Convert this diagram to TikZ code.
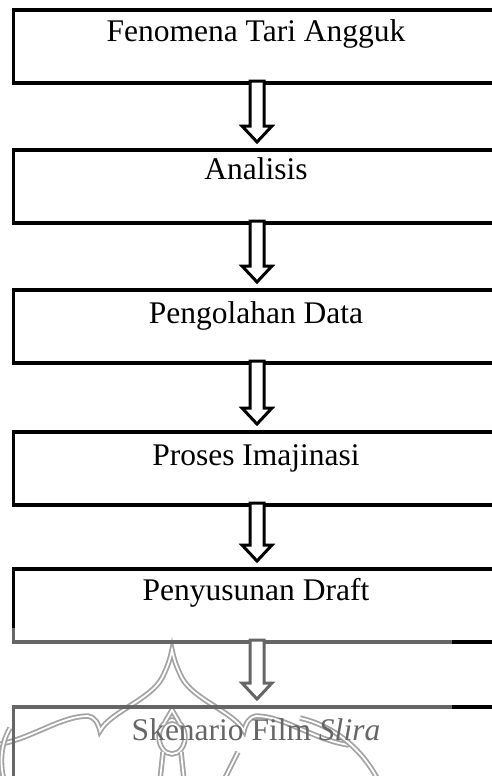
\documentclass[tikz,border=0pt]{standalone}
\usepackage{fontspec}
\setmainfont{Liberation Serif}
\usetikzlibrary{calc}
\begin{document}
\begin{tikzpicture}[x=1pt,y=-1pt,
  box/.style={draw=black, line width=3.5pt, minimum width=485pt, minimum height=73pt, inner sep=0pt, outer sep=0pt},
  flowarrow/.style={draw=black, line width=3pt, fill=white, line join=miter},
  lbl/.style={anchor=base, font=\fontsize{31.5}{38}\selectfont, inner sep=0pt},
  wm/.style={draw=black!60, double=white, line width=1.8pt, double distance=1.8pt}]
\useasboundingbox (0,0) rectangle (492,776);
\clip (0,0) rectangle (492,776);
% watermark (under everything)
\draw[wm] (-5,745) .. controls (30,740) and (60,716) .. (88,716)
  .. controls (94,717) and (98,722) .. (100,731)
  .. controls (110,712) and (150,700) .. (162,678)
  .. controls (167,668) and (170,660) .. (172,650)
  .. controls (174,660) and (177,668) .. (182,678)
  .. controls (194,700) and (234,712) .. (244,731)
  .. controls (246,722) and (250,717) .. (256,716)
  .. controls (284,716) and (314,740) .. (349,745);
\draw[wm] (10,728) .. controls (0,745) and (0,765) .. (4,780);
\draw[wm] (300,718) .. controls (330,725) and (360,745) .. (378,780);
\draw[wm] (172,737) ellipse [x radius=13, y radius=17];
\draw[wm] (165,722) -- (172,710) -- (179,722);
\draw[wm] (163,752) -- (160,780);
\draw[wm] (181,752) -- (184,780);
\draw[wm] (238,752) -- (224,780);
% boxes
\node[box] (b1) at (256,46.5) {};
\node[box] (b2) at (256,186.5) {};
\node[box] (b3) at (256,326.5) {};
\node[box] (b4) at (256,468.5) {};
\node[box] (b5) at (256,605.5) {};
\node[box, minimum height=90pt] (b6) at (256,752) {};
% arrows
\foreach \a/\b in {b1/b2, b2/b3, b3/b4, b4/b5, b5/b6}{
  \draw[flowarrow] ($(\a.south)+(-6,-2)$) -- ($(\b.north)+(-6,-24)$) -- ($(\b.north)+(-14,-24)$)
    -- ($(\b.north)+(1,-8)$) -- ($(\b.north)+(16,-24)$) -- ($(\b.north)+(8,-24)$)
    -- ($(\a.south)+(8,-2)$) -- cycle;
}
% labels
\node[lbl] (t1) at (256,41.7) {Fenomena Tari Angguk};
\node[lbl] (t2) at (256,179.5) {Analisis};
\node[lbl] (t3) at (256,323) {Pengolahan Data};
\node[lbl] (t4) at (256,465) {Proses Imajinasi};
\node[lbl] (t5) at (256,600.7) {Penyusunan Draft};
\node[lbl] (t6) at (256,740) {Skenario Film \textit{Slira}};
% lightening overlay of the lower part
\fill[white, opacity=0.4] (0,628) rectangle (452,780);
\end{tikzpicture}
\end{document}
